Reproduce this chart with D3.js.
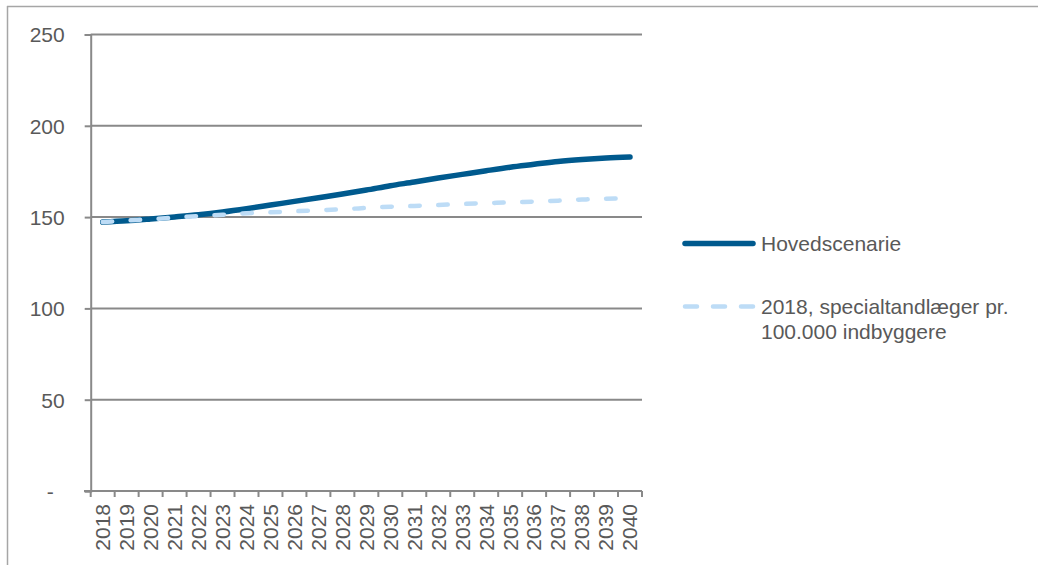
<!DOCTYPE html>
<html>
<head>
<meta charset="utf-8">
<script src="https://cdn.jsdelivr.net/npm/d3@7/dist/d3.min.js"></script>
<style>
  html, body { margin: 0; padding: 0; background: #ffffff; }
  svg { display: block; }
  text { font-family: "Liberation Sans", Arial, sans-serif; fill: #595959; }
</style>
</head>
<body>
<svg id="chart" width="1038" height="565"></svg>
<script>
// Years on the category axis
const years = ["2018","2019","2020","2021","2022","2023","2024","2025","2026","2027","2028",
  "2029","2030","2031","2032","2033","2034","2035","2036","2037","2038","2039","2040"];

// Main scenario: number of specialist dentists
const hovedscenarie = [147.3, 148.0, 149.0, 150.1, 151.3, 152.8, 154.6, 156.6, 158.6, 160.6, 162.6,
  164.8, 167.2, 169.2, 171.4, 173.4, 175.4, 177.3, 178.9, 180.5, 181.6, 182.4, 182.9];

// 2018 specialist density per 100,000 inhabitants held constant
const konstant2018 = [147.3, 148.1, 148.8, 149.7, 150.6, 151.3, 152.1, 152.6, 153.2, 153.7, 154.3,
  155.0, 155.7, 156.1, 156.6, 157.2, 157.6, 158.1, 158.5, 159.0, 159.6, 160.1, 160.3];

const yTicks = [0, 50, 100, 150, 200, 250];
const seriesNames = ["Hovedscenarie", ["2018, specialtandlæger pr.", "100.000 indbyggere"]];

const svg = d3.select("#chart");
const axisColor = "#898989";
const textColor = "#595959";
const darkBlue = "#005a8e";
const lightBlue = "#bddcf6";

const x = d3.scaleBand().domain(years).range([90.7, 642]).paddingInner(0).paddingOuter(0);
const y = d3.scaleLinear().domain([0, 250]).range([491, 34.5]);
const cx = d => x(d) + x.bandwidth() / 2;

// Outer frame (left and top edges visible)
svg.append("line").attr("x1", 7.5).attr("x2", 7.5).attr("y1", 6).attr("y2", 565)
  .attr("stroke", "#a6a6a6").attr("stroke-width", 1.5);
svg.append("line").attr("x1", 7).attr("x2", 1038).attr("y1", 6.5).attr("y2", 6.5)
  .attr("stroke", "#a6a6a6").attr("stroke-width", 1.5);

// Horizontal gridlines
svg.append("g").selectAll("line").data(yTicks.filter(v => v > 0)).join("line")
  .attr("x1", 90.7).attr("x2", 642)
  .attr("y1", d => y(d)).attr("y2", d => y(d))
  .attr("stroke", axisColor).attr("stroke-width", 2);

// Y axis
const yAxis = svg.append("g").attr("transform", "translate(90.7,0)")
  .call(d3.axisLeft(y).tickValues(yTicks).tickSize(6).tickPadding(20)
    .tickFormat(d => d === 0 ? "-" : d3.format("d")(d)));
yAxis.select(".domain").attr("stroke", axisColor).attr("stroke-width", 2);
yAxis.selectAll(".tick line").attr("stroke", axisColor).attr("stroke-width", 2);
yAxis.selectAll(".tick text")
  .attr("font-size", "21px").attr("fill", textColor)
  .attr("font-family", "Liberation Sans, Arial, sans-serif")
  .attr("dy", "0.35em")
  .attr("dx", d => d === 0 ? -11 : 0);

// X axis: tick marks on category boundaries
const xAxisG = svg.append("g");
xAxisG.append("line").attr("x1", 84).attr("x2", 642).attr("y1", 491).attr("y2", 491)
  .attr("stroke", axisColor).attr("stroke-width", 2);
const boundaries = years.map(d => x(d)).concat([x(years[years.length - 1]) + x.bandwidth()]);
xAxisG.selectAll("line.tk").data(boundaries).join("line").attr("class", "tk")
  .attr("x1", d => d).attr("x2", d => d).attr("y1", 491).attr("y2", 497)
  .attr("stroke", axisColor).attr("stroke-width", 2);
xAxisG.selectAll("text").data(years).join("text")
  .attr("transform", d => `translate(${cx(d)},504) rotate(-90)`)
  .attr("text-anchor", "end").attr("dy", "0.35em")
  .attr("font-size", "21px").text(d => d);

// Series lines
const line = d3.line().x((d, i) => cx(years[i])).y(d => y(d)).curve(d3.curveMonotoneX);

svg.append("path").datum(hovedscenarie).attr("d", line)
  .attr("fill", "none").attr("stroke", darkBlue).attr("stroke-width", 5.5)
  .attr("stroke-linecap", "round").attr("stroke-linejoin", "round");

svg.append("path").datum(konstant2018).attr("d", line)
  .attr("fill", "none").attr("stroke", lightBlue).attr("stroke-width", 4.5)
  .attr("stroke-dasharray", "9.5,18.5")
  .attr("stroke-linecap", "round");

// Legend
const legend = svg.append("g");
legend.append("line").attr("x1", 685).attr("x2", 753).attr("y1", 243.5).attr("y2", 243.5)
  .attr("stroke", darkBlue).attr("stroke-width", 5.5).attr("stroke-linecap", "round");
legend.append("text").attr("x", 761).attr("y", 250.5).attr("font-size", "21px").text(seriesNames[0]);

legend.append("line").attr("x1", 685).attr("x2", 753).attr("y1", 306.5).attr("y2", 306.5)
  .attr("stroke", lightBlue).attr("stroke-width", 4.5)
  .attr("stroke-dasharray", "12,16").attr("stroke-linecap", "round");
const lt = legend.append("text").attr("x", 761).attr("y", 313.5).attr("font-size", "21px");
seriesNames[1].forEach((s, i) => {
  lt.append("tspan").attr("x", 761).attr("dy", i === 0 ? 0 : 25).text(s);
});
</script>
</body>
</html>
